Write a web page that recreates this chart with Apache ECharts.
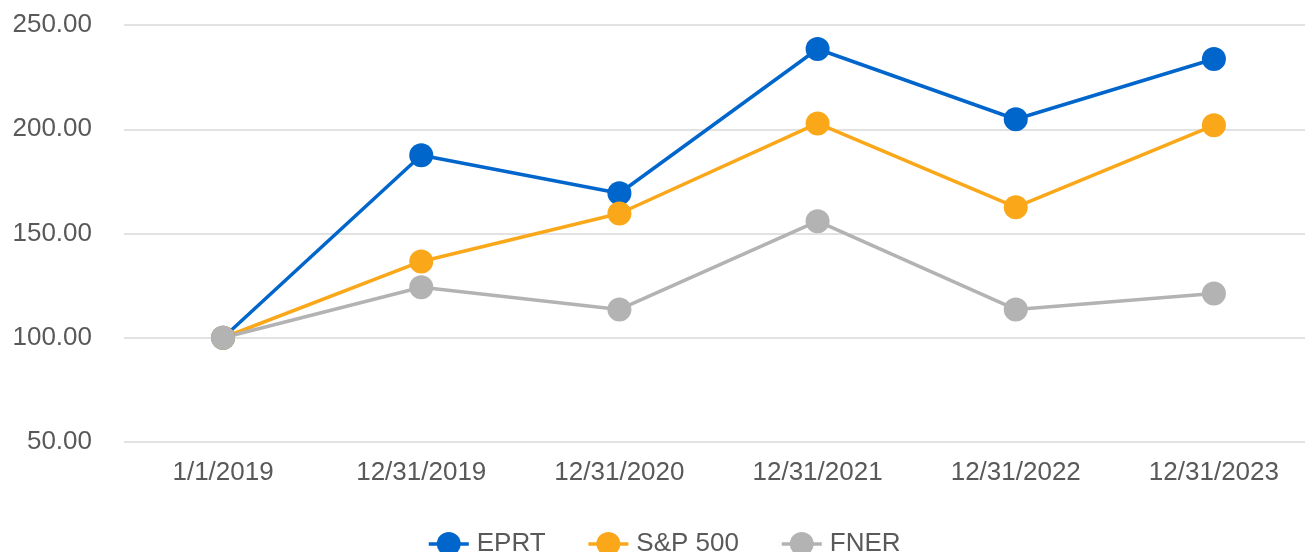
<!DOCTYPE html>
<html style="height: 100%">
<head>
<meta charset="utf-8">
<title>EPRT vs S&amp;P 500 vs FNER</title>
<script src="https://cdn.jsdelivr.net/npm/echarts@6/dist/echarts.min.js"></script>
</head>
<body style="height: 100%; margin: 0; background: #fff; overflow: hidden">
<!-- plot runs a few px past the right edge in the original, so the canvas is a bit wider than the window -->
<div id="container" style="width: 1313px; height: 552px"></div>
<script type="text/javascript">
var categories = ['1/1/2019', '12/31/2019', '12/31/2020', '12/31/2021', '12/31/2022', '12/31/2023'];
var eprt = [100, 187.5, 169.3, 238.5, 204.8, 233.7];
var sp500 = [100, 136.6, 159.6, 202.8, 162.6, 201.9];
var fner = [100, 124.2, 113.6, 155.9, 113.6, 121.2];
var yTicks = [50, 100, 150, 200, 250];

var dom = document.getElementById('container');
var myChart = echarts.init(dom);

function lineSeries(name, data, color) {
    return {
        name: name,
        type: 'line',
        data: data,
        symbol: 'circle',
        symbolSize: 24,
        lineStyle: { color: color, width: 3.5 },
        itemStyle: { color: color },
        emphasis: { disabled: true },
        animation: false
    };
}

var option = {
    backgroundColor: '#ffffff',
    textStyle: { fontFamily: 'Liberation Sans, Arial, sans-serif' },
    grid: { left: 124, top: 25, width: 1189, height: 417, containLabel: false },
    legend: {
        left: 422,
        top: 526,
        itemWidth: 40,
        itemHeight: 30,
        itemGap: 41,
        lineStyle: { width: 3.5 },
        textStyle: { color: '#595959', fontSize: 26, padding: [0, 0, 0, 3] },
        data: ['EPRT', 'S&P 500', 'FNER']
    },
    xAxis: {
        type: 'category',
        data: categories,
        boundaryGap: true,
        axisLine: { show: false },
        axisTick: { show: false },
        axisLabel: { color: '#595959', fontSize: 26, margin: 18 }
    },
    yAxis: {
        type: 'value',
        min: yTicks[0],
        max: yTicks[yTicks.length - 1],
        interval: 50,
        axisLine: { show: false },
        axisTick: { show: false },
        axisLabel: {
            color: '#595959',
            fontSize: 26,
            margin: 32,
            formatter: function (v) { return v.toFixed(2); }
        },
        splitLine: { lineStyle: { color: '#d9d9d9', width: 1.5 } }
    },
    series: [
        lineSeries('EPRT', eprt, '#0066cc'),
        lineSeries('S&P 500', sp500, '#faa81a'),
        lineSeries('FNER', fner, '#b3b3b3')
    ]
};
myChart.setOption(option, true);
</script>
</body>
</html>
